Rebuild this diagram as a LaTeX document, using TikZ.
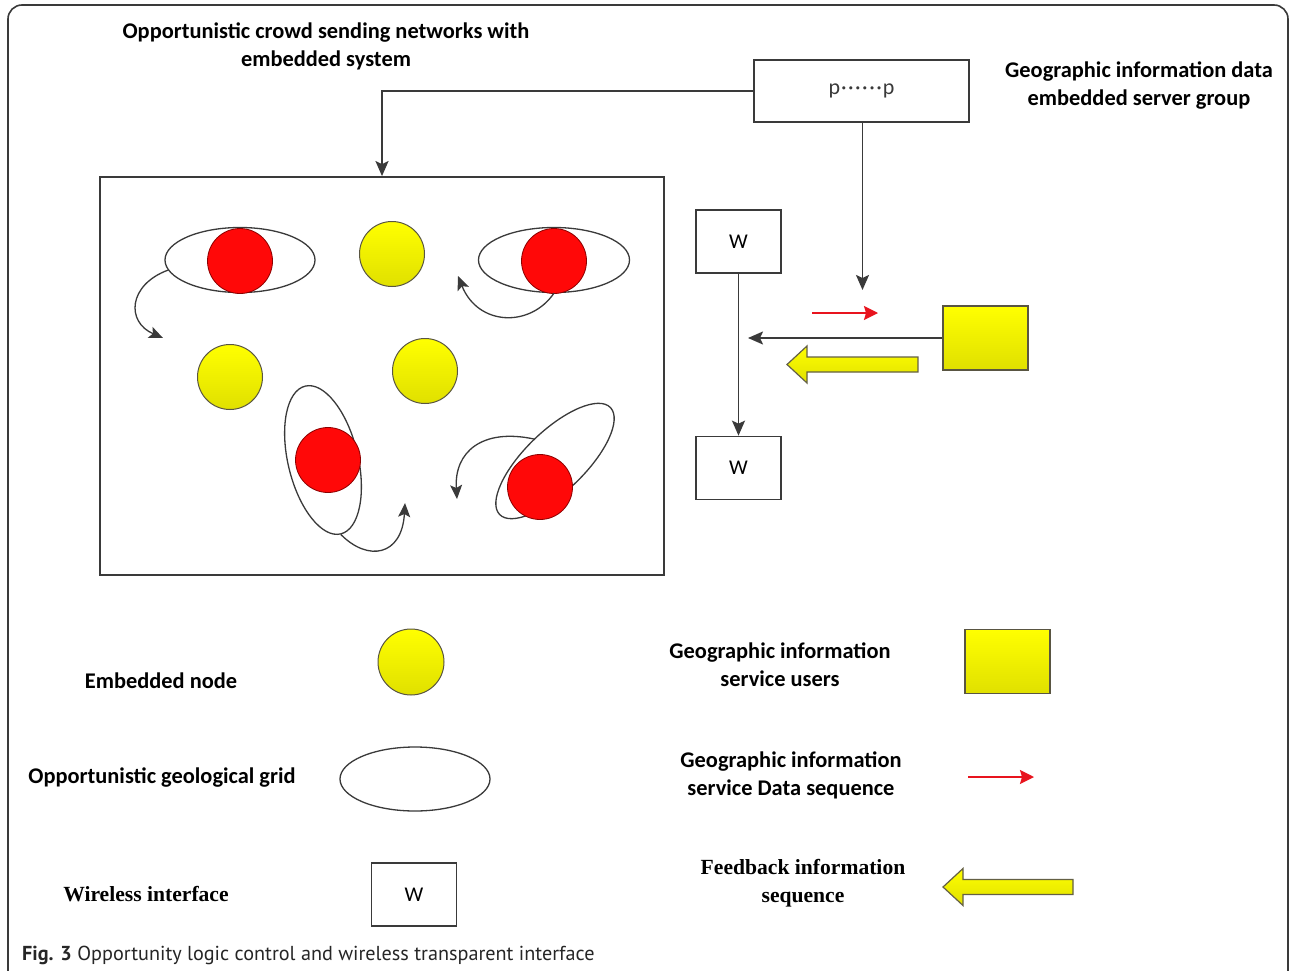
\documentclass[tikz,border=0pt]{standalone}
\usepackage{fontspec}
\setmainfont{Carlito}
\newfontfamily\serifbold{Liberation Serif}
\newfontfamily\capfont{PT Sans}
\usetikzlibrary{arrows.meta,shapes.geometric,calc}

\definecolor{ink}{HTML}{3A3A3A}
\definecolor{yel}{HTML}{FFFF00}
\definecolor{yeldark}{HTML}{E0E000}
\definecolor{redfill}{HTML}{FF0808}
\definecolor{arrred}{HTML}{E8141E}

\tikzset{
  conn/.style={draw=ink, line width=1.8pt, -{Stealth[length=15pt,width=13pt,inset=3pt]}},
  moveline/.style={draw=ink, line width=1.3pt, -{Stealth[length=14pt,width=12pt,inset=3pt]}},
  redarr/.style={draw=arrred, line width=1.7pt, -{Stealth[length=14pt,width=14pt,inset=2pt]}},
  box/.style={draw=ink, line width=1.7pt, fill=white, inner sep=0pt},
  wbox/.style={box, minimum width=85pt, minimum height=63pt, font=\fontsize{21}{22}\selectfont},
  enode/.style={circle, draw=black!75!yellow, line width=1pt, minimum size=65pt, inner sep=0pt,
                top color=yel, bottom color=yeldark},
  rnode/.style={circle, draw=red!55!black, line width=0.8pt, minimum size=65pt, inner sep=0pt, fill=redfill},
  grid/.style={ellipse, draw=ink, line width=1.3pt, inner sep=0pt},
  user/.style={rectangle, draw=black!75!yellow, line width=1.6pt, inner sep=0pt,
               top color=yel, bottom color=yeldark, minimum width=85pt, minimum height=64pt},
  fat/.style={draw=black!70!yellow, line width=1.2pt, top color=yel, bottom color=yeldark},
  lbl/.style={font=\bfseries\fontsize{22.4}{28}\selectfont, align=center, text=black, inner sep=0pt},
  lblserif/.style={font=\serifbold\bfseries\fontsize{21.6}{28}\selectfont, align=center, text=black, inner sep=0pt},
}

\begin{document}
\begin{tikzpicture}[x=1pt, y=-1pt]
  \useasboundingbox (0,0) rectangle (1290,971);
  \fill[white] (0,0) rectangle (1290,971);

  % outer frame
  \draw[ink, line width=1.6pt, rounded corners=14pt] (8,1010) -- (8,5) -- (1288,5) -- (1288,1010);

  % headings
  \node[lbl] (title) at (326,46) {Opportunistic crowd sending networks with\\embedded system};
  \node[lbl] (srvlbl) at (1139,86) {Geographic information data\\embedded server group};

  % network area and server group
  \node[box, line width=1.8pt, minimum width=564pt, minimum height=398pt] (net) at (382,376) {};
  \node[box, minimum width=215pt, minimum height=62pt, font=\fontsize{22}{22}\selectfont, text=ink] (pbox) at (861.5,91)
    {p\kern1pt·\kern1.5pt·\kern1.5pt·\kern1.5pt·\kern1.5pt·\kern1.5pt·\kern1pt p};

  % opportunistic grids
  \node[grid, minimum width=150pt, minimum height=65pt] (g1) at (240,260) {};
  \node[grid, minimum width=151pt, minimum height=65pt] (g2) at (554,260) {};
  \node[grid, minimum width=70pt, minimum height=152pt, rotate=13.5] (g3) at (323,460) {};
  \node[grid, minimum width=154pt, minimum height=60pt, rotate=44] (g4) at (555,461) {};

  % nodes inside grids
  \node[rnode] (r1) at (240,261) {};
  \node[rnode] (r2) at (554,261) {};
  \node[rnode] (r3) at (328,460) {};
  \node[rnode] (r4) at (540,487) {};

  % embedded nodes
  \node[enode] (e1) at (392,254) {};
  \node[enode] (e2) at (230,377) {};
  \node[enode] (e3) at (425,371) {};

  % movement between grids
  \coordinate (ta) at (163,338);
  \coordinate (tb) at (458,276);
  \coordinate (tc) at (405,503);
  \coordinate (td) at (457,499);
  \draw[moveline] (g1.188) .. controls (128,285) and (126,322) .. (ta);
  \draw[moveline] (g2.south) .. controls (530,328) and (478,326) .. (tb);
  \draw[moveline] (g3.south) .. controls (368,562) and (402,556) .. (tc);
  \draw[moveline] (g4.north) .. controls (482,428) and (454,452) .. (td);

  % wireless interfaces and users
  \node[wbox] (w1) at (738.5,241.5) {W};
  \node[wbox] (w2) at (738.5,468) {W};
  \node[user] (usr) at (985.5,338) {};

  \coordinate (pdrop) at (862.5,290);
  \coordinate (wtap) at (748,338);
  \draw[conn] (pbox.west) -| (net.north);
  \draw[conn] (pbox.south -| pdrop) -- (pdrop);
  \draw[conn] (w1.south) -- (w2.north);
  \draw[conn] (usr.west) -- (wtap);

  \coordinate (rs) at (812,313);
  \coordinate (re) at (878,313);
  \draw[redarr] (rs) -- (re);

  \draw[fat] (787,364.5) -- (807,346) -- (807,357) -- (918,357) -- (918,372) -- (807,372) -- (807,383) -- cycle;

  % legend, left column
  \node[lbl] (lgnode) at (161,681) {Embedded node};
  \node[enode, minimum size=66pt] (lgcirc) at (411,662) {};
  \node[lbl] (lggrid) at (162,778) {Opportunistic geological grid};
  \node[grid, minimum width=150pt, minimum height=64pt] (lgell) at (415,779) {};
  \node[lblserif] (lgwl) at (146,894) {Wireless interface};
  \node[wbox] (lgw) at (414,894.5) {W};

  % legend, right column
  \node[lbl] (lgusr) at (780,665) {Geographic information\\service users};
  \node[user] (lgsq) at (1007.5,661.5) {};
  \node[lbl] (lgdata) at (791,775) {Geographic information\\service Data sequence};
  \coordinate (lrs) at (968,777);
  \coordinate (lre) at (1034,777);
  \draw[redarr] (lrs) -- (lre);
  \node[lblserif] (lgfb) at (803,883) {Feedback information\\sequence};
  \draw[fat] (943,887) -- (963,868.5) -- (963,879.5) -- (1073,879.5) -- (1073,894.5) -- (963,894.5) -- (963,905.5) -- cycle;

  % caption
  \node[anchor=west, inner sep=0pt, font=\capfont\fontsize{20.2}{22}\selectfont, text=black!85] (cap) at (22,955)
    {\textbf{Fig. 3} Opportunity logic control and wireless transparent interface};
\end{tikzpicture}
\end{document}
